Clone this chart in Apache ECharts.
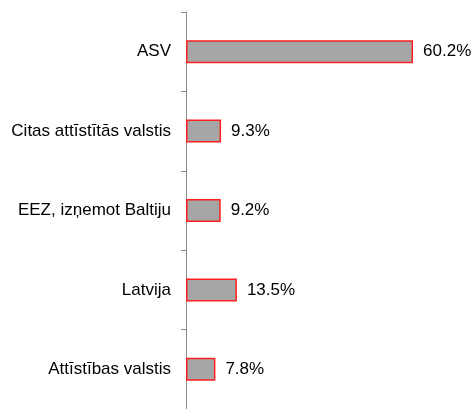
<!DOCTYPE html>
<html><head><meta charset="utf-8">
<script src="https://cdn.jsdelivr.net/npm/echarts@6/dist/echarts.min.js"></script>
<style>html,body{margin:0;padding:0;background:#fff}#c{width:474px;height:409px}</style>
</head><body><div id="c"></div>
<script>
const categories = ["ASV", "Citas attīstītās valstis", "EEZ, izņemot Baltiju", "Latvija", "Attīstības valstis"];
const values = [60.2, 9.3, 9.2, 13.5, 7.8];

const chart = echarts.init(document.getElementById('c'));
chart.setOption({
  animation: false,
  grid: {left: 186, top: 12, width: 264, height: 400, containLabel: false},
  xAxis: {type: 'value', min: 0, max: 70, show: false},
  yAxis: {
    type: 'category', data: categories, inverse: true,
    axisLine: {show: true, lineStyle: {color: '#8c8c8c', width: 1}},
    axisTick: {show: true, length: 5, lineStyle: {color: '#8c8c8c'}},
    axisLabel: {color: '#000', fontFamily: 'Liberation Sans, Arial', fontSize: 17, margin: 15}
  },
  series: [{
    type: 'bar', data: values, barWidth: 23,
    itemStyle: {color: '#a6a6a6', borderColor: '#ff2020', borderWidth: 1.5},
    label: {show: true, position: 'right', distance: 10, color: '#000',
      fontFamily: 'Liberation Sans, Arial', fontSize: 17,
      formatter: p => p.value.toFixed(1) + '%'}
  }]
});
</script></body></html>
